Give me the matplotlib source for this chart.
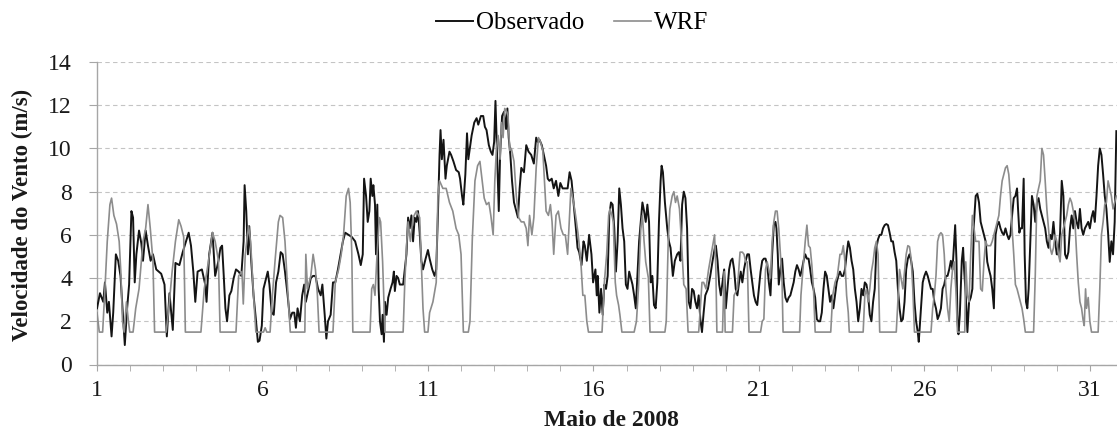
import matplotlib
matplotlib.use('Agg')
import matplotlib.pyplot as plt
import numpy as np

# ---- data (day of May 2008, wind speed m/s) ----
obs_day = [1.00,1.09,1.19,1.24,1.31,1.36,1.44,1.49,1.57,1.64,1.71,1.77,1.84,1.91,1.97,2.04,2.09,2.14,2.19,2.27,
           2.34,2.39,2.47,2.54,2.62,2.69,2.79,2.94,3.04,3.11,3.19,3.29,3.37,3.49,3.59,3.69,3.77,3.84,3.91,3.97,
           4.04,4.17,4.27,4.31,4.39,4.49,4.57,4.67,
           4.73,4.78,4.83,4.88,4.93,5.00,5.06,5.13,5.20,5.28,5.36,5.43,5.46,5.51,5.56,5.60,5.66,5.73,5.80,5.86,
           5.91,5.98,6.03,6.08,6.16,6.21,6.28,6.34,6.41,6.48,6.55,6.61,6.68,6.76,6.83,6.90,6.96,7.01,7.06,7.13,
           7.20,7.26,7.31,7.38,7.46,7.53,7.60,7.68,7.76,7.81,7.88,7.93,7.98,8.06,8.13,8.20,8.28,8.36,
           8.43,8.50,8.60,8.70,8.80,8.90,8.97,9.03,9.07,9.13,9.18,9.23,9.27,9.32,9.35,9.40,9.43,9.47,9.51,9.55,
           9.60,9.63,9.67,9.70,9.75,9.80,9.87,9.93,9.97,10.00,10.05,10.10,10.15,10.25,10.30,10.35,10.40,10.45,
           10.50,10.55,10.60,10.65,10.70,10.75,10.80,10.85,10.93,11.00,11.05,11.13,11.20,11.25,11.30,11.35,
           11.38,11.42,11.47,11.53,11.57,11.65,11.70,11.77,11.85,11.93,11.97,12.03,12.07,12.13,12.18,12.22,
           12.32,12.40,12.47,12.52,12.60,12.67,12.72,12.77,12.84,12.90,12.95,13.00,13.04,13.09,13.14,13.18,
           13.24,13.30,13.36,13.40,13.44,13.49,13.54,13.60,13.67,13.72,13.77,13.82,13.90,13.97,14.04,14.12,
           14.20,14.27,14.32,14.37,14.44,14.50,14.57,14.62,14.67,14.74,14.80,14.87,14.94,15.00,15.07,15.15,
           15.22,15.28,15.34,15.40,15.47,15.52,15.57,15.64,15.70,15.74,15.80,15.87,15.94,15.99,
           16.06,16.10,16.13,16.18,16.23,16.28,16.33,16.38,16.43,16.48,16.53,16.58,16.63,16.68,16.73,16.78,
           16.83,16.88,16.93,16.98,17.03,17.08,17.13,17.18,17.23,17.28,17.33,17.38,17.43,17.48,17.53,17.58,
           17.63,17.68,17.73,17.78,17.83,17.88,17.93,17.98,18.03,18.06,18.10,18.16,18.23,18.28,18.33,18.40,
           18.46,18.53,18.58,18.63,18.68,18.73,18.78,18.83,18.88,18.93,18.98,19.03,19.08,19.13,19.18,19.23,
           19.28,19.33,19.38,19.46,19.53,19.60,19.68,
           19.70,19.75,19.80,19.85,19.90,19.95,20.00,20.05,20.10,20.15,20.20,20.25,20.30,20.35,20.40,20.45,
           20.50,20.55,20.60,20.65,20.70,20.75,20.80,20.85,20.90,20.95,21.00,21.05,21.10,21.15,21.20,21.25,
           21.30,21.35,21.40,21.45,21.50,21.53,21.57,21.60,21.65,21.70,21.75,21.80,21.85,21.90,21.95,22.00,
           22.05,22.10,22.15,22.20,22.25,22.30,22.35,22.40,22.45,22.50,22.55,22.60,22.65,22.70,22.75,22.80,
           22.85,22.90,22.95,23.00,23.05,23.10,23.15,23.20,23.25,23.30,23.35,23.40,23.45,23.50,
           23.55,23.60,23.65,23.70,23.75,23.80,23.85,23.90,23.95,24.00,24.05,24.10,24.15,24.20,24.25,24.30,
           24.35,24.40,24.45,24.50,24.55,24.60,24.65,24.70,24.75,24.80,24.85,24.90,24.95,25.00,25.05,25.10,
           25.15,25.20,25.25,25.30,25.35,25.40,25.45,25.50,25.55,25.60,25.65,25.70,25.75,25.80,25.83,25.87,
           25.91,25.95,26.00,26.05,26.10,26.15,26.20,26.25,26.30,26.35,26.40,26.45,26.50,26.55,26.60,26.65,
           26.70,26.75,26.80,26.85,26.90,26.93,26.97,27.00,27.03,27.07,27.13,27.17,27.20,27.25,
           27.30,27.35,27.40,27.45,27.50,27.55,27.60,27.65,27.70,27.75,27.80,27.85,27.90,27.95,28.00,28.05,
           28.10,28.15,28.20,28.25,28.30,28.35,28.40,28.45,28.50,28.55,28.60,28.65,28.70,28.75,28.80,28.83,
           28.87,28.90,28.95,29.00,29.03,29.07,29.11,29.15,29.20,29.25,29.30,29.35,29.40,29.45,29.50,29.55,
           29.60,29.65,29.70,29.75,29.80,29.85,29.90,29.95,30.00,30.05,30.10,30.15,30.20,30.25,30.30,30.35,
           30.40,30.45,30.50,30.55,30.60,30.65,30.70,30.75,30.80,30.85,30.90,30.95,31.00,31.05,31.10,31.15,
           31.20,31.25,31.30,31.35,31.40,31.45,31.50,31.55,31.60,31.65,31.70,31.75,31.80]
obs_val = [2.6,3.3,2.9,3.8,2.4,2.9,1.3,2.4,5.1,4.8,4.1,2.6,0.9,2.6,3.7,7.1,6.8,3.8,5.1,6.2,
           5.6,4.8,6.2,5.5,4.8,5.1,4.4,4.2,3.7,1.3,3.3,1.6,4.7,4.6,5.2,5.7,6.1,5.5,4.3,2.9,
           4.3,4.4,3.7,2.9,5.1,6.1,4.1,4.8,
           5.4,5.5,4.1,2.6,2.0,3.2,3.4,4.0,4.4,4.3,4.1,5.7,8.3,7.1,5.1,6.4,4.8,3.2,2.1,1.05,
           1.1,1.8,3.5,3.8,4.3,3.7,2.4,2.3,3.8,4.3,5.2,5.1,4.3,3.2,2.1,2.4,2.4,1.7,2.6,2.0,
           3.2,3.7,2.9,3.4,4.0,4.1,4.1,3.5,3.2,3.7,2.3,1.2,2.0,2.3,3.8,3.8,4.4,5.1,
           5.7,6.1,6.0,5.9,5.7,5.1,4.6,5.1,8.6,7.8,6.6,7.1,8.6,7.8,8.3,7.4,5.1,7.4,3.5,2.0,
           1.4,2.3,1.05,2.9,2.3,3.1,3.5,3.8,4.3,3.4,4.1,4.0,3.7,3.7,4.4,5.1,6.8,6.3,
           6.9,5.7,6.8,6.6,7.1,6.1,4.8,4.4,4.9,5.3,4.9,4.4,4.1,4.4,6.9,9.7,
           10.85,9.5,10.4,8.6,9.2,9.85,9.7,9.4,9.0,8.9,8.6,7.8,7.4,8.8,10.7,9.5,
           10.6,11.2,11.4,11.1,11.5,11.5,11.0,10.85,10.15,9.85,9.7,10.3,12.2,9.7,7.1,9.7,
           11.5,11.7,10.9,11.85,10.5,9.7,8.5,7.5,7.1,6.8,8.15,9.1,8.9,10.15,9.85,9.7,
           9.3,10.5,10.3,10.4,10.15,9.7,9.2,8.6,8.5,8.6,8.15,8.5,7.8,8.4,8.15,8.15,
           8.15,8.9,8.5,7.5,6.3,5.4,5.2,4.6,5.7,5.5,4.8,6.0,5.1,3.8,
           4.4,3.2,4.1,2.4,3.5,2.3,3.7,3.5,4.1,6.9,7.5,7.4,6.3,4.3,5.7,8.15,
           7.4,6.3,5.7,3.7,3.5,4.3,4.0,3.7,3.2,2.6,4.1,5.7,6.6,7.5,7.1,6.6,
           7.4,6.6,3.8,4.1,2.75,2.6,3.8,6.6,8.5,9.2,8.9,7.5,6.3,5.7,5.4,4.1,
           4.8,5.1,5.2,4.8,7.4,8.0,7.7,6.3,2.9,2.6,3.5,3.4,2.9,2.6,3.2,2.1,
           1.5,2.4,3.2,3.5,4.1,4.8,5.5,
           5.5,4.8,3.7,3.2,3.8,4.4,2.6,3.5,4.4,4.8,4.9,4.4,3.5,3.2,3.8,4.3,
           3.8,4.4,4.8,5.1,5.1,4.4,3.8,3.2,2.9,2.75,3.5,4.3,4.8,4.9,4.9,4.6,
           3.8,3.2,5.1,6.45,6.6,6.3,5.1,3.7,4.4,4.9,3.8,3.1,2.9,3.1,3.2,3.5,
           3.8,4.3,4.6,4.4,4.1,4.4,4.8,5.1,4.9,4.9,4.4,3.8,3.5,3.1,2.1,2.0,
           2.0,2.4,3.5,4.3,4.1,3.5,2.9,3.2,2.6,3.2,3.8,4.1,4.3,4.1,
           4.1,4.4,5.1,5.7,5.4,4.8,4.4,3.5,2.9,2.0,2.6,3.5,3.2,3.8,3.7,3.2,
           2.3,2.0,2.9,3.5,5.4,5.8,6.0,6.0,6.3,6.45,6.5,6.45,6.1,5.7,5.7,5.2,
           4.8,3.5,2.6,2.0,2.1,2.9,4.4,4.9,5.1,4.8,4.3,2.9,2.0,1.5,1.05,2.0,
           2.9,3.8,4.1,4.3,4.1,3.8,3.5,3.5,2.9,2.6,2.1,2.3,2.6,3.5,3.7,4.1,
           4.1,4.4,4.8,4.4,5.7,6.45,4.8,2.0,1.4,2.3,4.8,5.4,4.4,3.2,
           1.5,2.9,3.1,3.5,6.6,7.8,7.9,7.5,6.6,6.3,6.0,5.7,4.75,4.4,4.1,3.5,
           2.6,6.0,6.45,6.6,6.3,6.1,6.0,6.3,6.0,5.8,6.0,6.9,7.7,7.8,8.15,7.2,
           6.1,6.3,6.3,8.6,5.1,2.9,2.6,3.5,5.7,7.8,7.4,6.6,7.5,7.7,7.2,6.9,
           6.6,6.3,5.7,5.4,6.0,5.8,6.6,5.7,5.1,5.1,6.1,8.5,7.8,5.1,4.9,5.2,
           6.3,6.9,6.3,7.1,6.6,6.3,7.2,6.3,6.0,6.3,6.45,6.6,6.3,6.8,7.1,6.6,
           7.8,9.2,10.0,9.7,8.8,7.8,7.2,6.1,4.75,5.7,5.1,6.6,10.8]

wrf_day = [1.00,1.07,1.17,1.24,1.31,1.39,1.44,1.51,1.59,1.67,1.72,1.77,1.82,1.89,1.95,1.99,2.09,2.17,2.27,2.39,
           2.47,2.54,2.61,2.69,2.74,3.09,3.17,3.27,3.37,3.47,3.54,3.62,3.67,4.14,4.24,4.37,4.49,4.57,4.67,
           4.72,5.20,5.28,5.38,5.42,5.48,5.58,5.64,5.73,5.80,6.03,6.08,6.13,6.23,6.30,6.38,6.48,6.53,6.61,
           6.68,6.76,6.84,7.20,7.28,7.31,7.36,7.46,7.53,7.60,7.66,7.71,8.13,8.20,8.30,8.38,
           8.45,8.53,8.60,8.65,8.70,8.73,9.25,9.30,9.35,9.40,9.45,9.53,9.57,9.63,9.70,10.25,10.30,10.35,
           10.40,10.47,10.55,10.65,10.75,10.80,10.85,10.90,11.00,11.05,11.15,11.25,11.30,11.35,11.45,11.55,
           11.65,11.75,11.85,11.93,12.00,12.07,12.22,
           12.27,12.34,12.42,12.50,12.57,12.64,12.70,12.77,12.84,12.90,12.97,13.02,13.07,13.12,13.18,13.22,
           13.27,13.32,13.38,13.42,13.47,13.52,13.60,13.67,13.74,13.82,13.90,13.97,14.02,14.07,14.14,14.20,
           14.27,14.34,14.40,14.47,14.52,14.57,14.64,14.70,14.75,14.80,14.87,14.94,15.02,15.09,15.15,15.22,
           15.27,15.32,15.40,15.47,15.54,15.62,15.68,15.74,15.80,15.85,16.26,
           16.33,16.40,16.46,16.50,16.56,16.60,16.66,16.70,16.76,16.80,16.86,17.23,17.30,17.36,17.43,17.48,
           17.53,17.58,17.66,17.71,18.16,18.20,18.26,18.31,18.38,18.43,18.48,18.53,18.60,18.66,18.73,18.80,
           18.86,19.18,19.23,19.28,19.33,19.40,19.48,19.56,19.66,19.70,19.73,19.90,19.95,19.98,20.20,20.25,
           20.35,20.43,20.50,20.55,20.60,20.65,20.70,21.05,21.10,21.15,21.20,21.25,21.30,21.35,21.40,21.45,
           21.50,21.55,21.60,21.65,21.70,21.73,22.23,22.27,22.33,22.40,22.45,22.50,22.55,22.60,22.65,22.70,
           23.17,23.23,23.30,23.37,23.45,
           23.50,23.55,23.60,23.65,23.70,23.73,24.15,24.20,24.25,24.30,24.35,24.40,24.45,24.50,24.55,24.60,
           24.65,25.15,25.25,25.35,25.45,25.50,25.55,25.60,25.65,25.70,26.20,26.25,26.30,26.35,26.40,26.45,
           26.50,26.55,26.60,26.65,26.70,26.75,26.80,26.85,26.90,26.95,27.00,27.22,
           27.25,27.30,27.35,27.40,27.45,27.50,27.55,27.65,27.70,27.75,27.80,27.85,27.90,28.00,28.05,28.10,
           28.15,28.20,28.25,28.30,28.35,28.45,28.50,28.55,28.60,28.65,28.70,28.75,28.80,28.85,28.90,28.95,
           29.00,29.05,29.30,29.35,29.40,29.45,29.50,29.55,29.60,29.65,29.70,29.75,29.80,29.85,29.90,29.95,
           30.00,30.05,30.10,30.15,30.20,30.25,30.30,30.35,30.40,30.45,30.50,30.55,30.60,30.65,30.70,30.75,
           30.80,30.83,30.87,30.90,30.95,31.00,31.05,31.25,31.30,31.35,31.40,31.45,31.50,31.55,31.60,31.65,
           31.70,31.75,31.80]
wrf_val = [2.4,1.5,1.5,3.5,5.7,7.4,7.7,6.9,6.5,5.7,4.3,2.0,1.5,2.9,2.0,1.5,1.5,2.6,3.5,5.7,
           6.3,7.4,6.3,4.8,1.5,1.5,2.6,4.3,5.7,6.7,6.4,5.9,1.5,1.5,3.5,4.8,6.1,5.7,4.8,
           1.5,1.5,4.1,4.3,2.8,5.1,6.4,5.7,3.2,1.5,1.5,1.7,1.5,1.5,3.2,4.8,6.6,6.9,6.8,
           5.7,3.5,1.5,1.5,1.5,5.1,3.5,4.1,5.1,4.4,3.2,1.5,1.5,3.8,4.4,5.1,
           6.0,7.8,8.15,7.5,5.1,1.5,1.5,3.5,3.7,3.2,4.75,6.8,6.6,4.75,1.5,1.5,3.8,5.4,
           6.6,5.7,6.8,7.1,6.8,4.75,2.6,1.5,1.5,2.4,2.9,3.8,7.8,8.5,8.15,8.15,
           7.5,7.1,6.3,6.0,5.1,1.5,1.5,
           2.0,5.8,8.5,9.2,9.4,8.5,7.7,7.4,7.5,6.9,6.0,8.5,10.0,10.6,9.5,11.2,
           10.5,11.85,11.7,11.5,9.9,10.0,9.4,7.8,6.8,6.6,6.6,6.3,5.5,6.9,6.0,6.8,
           9.1,10.5,10.3,9.9,8.5,7.1,6.9,7.4,6.6,5.1,6.9,7.1,6.3,6.0,6.0,5.1,
           6.6,8.15,7.5,6.8,6.0,4.75,3.2,3.2,2.0,1.5,1.5,
           3.8,5.1,6.9,7.2,6.9,6.6,3.8,3.2,2.75,2.3,1.5,1.5,2.0,3.5,6.3,6.9,
           5.7,4.75,4.0,1.5,1.5,2.0,5.7,7.2,7.8,8.0,7.5,7.8,7.2,5.7,3.7,3.5,
           1.5,1.5,2.6,3.8,3.8,3.5,4.4,5.1,6.0,4.4,1.5,1.5,4.3,1.5,1.5,3.2,
           3.5,5.2,5.2,5.1,4.75,4.75,1.5,1.5,2.0,2.1,4.4,4.75,4.4,4.0,5.7,6.6,
           7.1,7.1,6.3,5.1,3.8,1.5,1.5,3.2,4.4,5.7,6.45,5.5,5.4,4.6,3.5,1.5,
           1.5,3.2,3.8,4.1,5.1,
           5.1,5.5,4.75,3.2,2.4,1.5,1.5,3.2,3.5,2.9,3.5,4.3,4.75,5.4,5.7,5.1,
           1.5,1.5,4.4,3.5,5.1,5.5,5.45,4.9,3.5,1.5,1.5,2.6,3.2,4.1,5.7,6.0,
           6.1,6.0,5.1,3.5,2.6,2.0,3.5,4.4,4.75,3.5,1.5,1.5,
           4.75,3.2,2.9,5.1,6.9,6.3,5.7,5.7,3.5,3.4,4.75,5.7,5.5,5.5,5.7,6.0,
           6.3,6.6,6.9,7.8,8.5,9.1,9.2,8.8,7.8,6.3,5.1,3.7,3.5,3.2,2.9,2.6,
           2.1,1.5,1.5,4.1,7.8,8.15,8.5,10.0,9.7,8.5,7.2,6.3,5.4,5.1,5.4,6.0,
           5.7,5.1,4.75,6.0,6.3,6.6,6.9,7.4,7.7,7.5,7.1,6.6,5.1,3.8,2.9,2.6,
           2.0,1.8,3.5,2.6,3.1,2.0,1.5,1.5,3.5,6.0,6.6,7.4,7.5,8.5,8.15,7.8,
           7.2,7.5,7.8]

y_ticks = [0, 2, 4, 6, 8, 10, 12, 14]
x_major_days = [1, 6, 11, 16, 21, 26, 31]
x_tick_labels = ['1', '6', '11', '16', '21', '26', '31']
series_names = ['Observado', 'WRF']

plt.rcParams['font.family'] = ['Liberation Serif', 'DejaVu Serif']

W, H = 1117, 432
fig = plt.figure(figsize=(W / 100, H / 100), dpi=100)
ax = fig.add_axes([97 / W, 1 - 364.5 / H, (W - 97) / W, (364.5 - 62) / H])

ax.plot(obs_day, obs_val, color='#141414', lw=1.4, label=series_names[0], zorder=3)
ax.plot(wrf_day, wrf_val, color='#8c8c8c', lw=1.2, label=series_names[1], zorder=4)

ax.set_xlim(1, 31.82)
ax.set_ylim(0, 14)
ax.set_yticks(y_ticks)
ax.set_xticks(x_major_days)
ax.set_xticklabels(x_tick_labels)
ax.set_xticks(np.arange(1, 32), minor=True)

ax.yaxis.grid(True, linestyle=(0, (4, 3)), color='#c4c4c4', lw=0.8, zorder=0)
ax.set_axisbelow(True)
for s in ['top', 'right']:
    ax.spines[s].set_visible(False)
for s in ['left', 'bottom']:
    ax.spines[s].set_color('#a6a6a6')
    ax.spines[s].set_linewidth(1.0)

ax.tick_params(axis='y', which='both', length=6, color='#a6a6a6', labelsize=17, pad=12, labelcolor='#1a1a1a')
ax.tick_params(axis='x', which='both', length=4.5, color='#a6a6a6', labelsize=17, pad=6.5, labelcolor='#1a1a1a')

fig.text(22 / W, 1 - 215 / H, 'Velocidade do Vento (m/s)', rotation=90, ha='center', va='center',
         fontsize=16.5, fontweight='bold', color='#1a1a1a')
fig.text(611 / W, 1 - 426 / H, 'Maio de 2008', ha='center', va='baseline',
         fontsize=17, fontweight='bold', color='#1a1a1a')

fig.legend(loc='center', bbox_to_anchor=(572 / W, 1 - 23 / H), ncol=2, frameon=False,
           fontsize=18, handlelength=1.5, handletextpad=0.1, columnspacing=1.2)

fig.savefig('out.png', dpi=100)
